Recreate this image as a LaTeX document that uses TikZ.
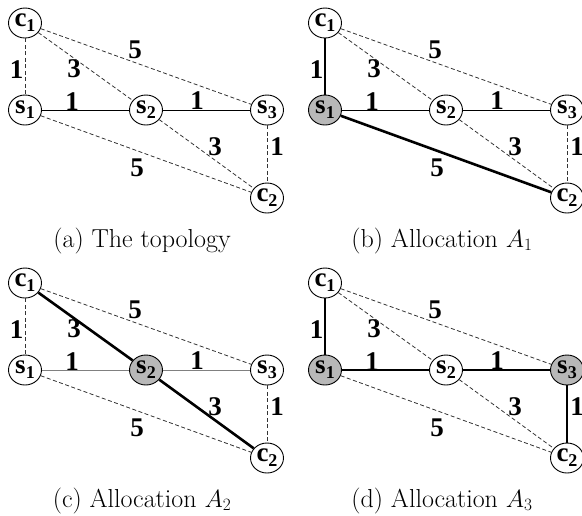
\documentclass[tikz,border=0pt]{standalone}
\usepackage{fontspec}
\newfontfamily\timesfont{Liberation Serif}
\usetikzlibrary{shapes.geometric}
\newcommand\vl[2]{#1\raisebox{-5pt}{\fontsize{18}{18}\selectfont #2}}
\newcommand\panelnodes[5]{%
  \node[vx,fill=#3] (#1s1) at (25,110) {\vl{s}{1}};
  \node[vx,fill=#4] (#1s2) at (146,110) {\vl{s}{2}};
  \node[vx,fill=#5] (#1s3) at (267,110) {\vl{s}{3}};
  \node[vx] (#1c1) at (25,23) {\vl{c}{1}};
  \node[vx] (#1c2) at (267,198) {\vl{c}{2}};
  \node[wt] (#1w1) at (16.5,70) {1};
  \node[wt] (#1w2) at (74,69) {3};
  \node[wt] (#1w3) at (135,50) {5};
  \node[wt] (#1w4) at (72,102) {1};
  \node[wt] (#1w5) at (197,101) {1};
  \node[wt] (#1w6) at (215,147) {3};
  \node[wt] (#1w7) at (277,147) {1};
  \node[wt] (#1w8) at (137,168) {5};
  \node[captxt] (#1cap) at (142,247) {#2};
}
\begin{document}
\begin{tikzpicture}[x=1pt,y=-1pt,
  vx/.style={ellipse,draw,fill=white,line width=0.9pt,minimum width=33pt,minimum height=30pt,inner sep=0pt,
    font=\timesfont\bfseries\fontsize{27}{27}\selectfont},
  wt/.style={inner sep=0pt,font=\timesfont\bfseries\fontsize{27}{27}\selectfont},
  dsh/.style={draw=black!80,line width=0.8pt,dash pattern=on 4pt off 2.5pt},
  thn/.style={draw=black,line width=0.9pt},
  thg/.style={draw=black!50,line width=1pt},
  thk/.style={draw=black,line width=2.6pt},
  captxt/.style={anchor=base,inner sep=0pt,font=\fontsize{26}{31}\selectfont}]
\useasboundingbox (0,0) rectangle (582,515);
% (a)
\begin{scope}
  \panelnodes{a}{(a) The topology}{white}{white}{white}
\end{scope}
% (b)
\begin{scope}[shift={(300,0)}]
  \panelnodes{b}{(b) Allocation $A_1$}{black!28}{white}{white}
\end{scope}
% (c)
\begin{scope}[shift={(0,260)}]
  \panelnodes{c}{(c) Allocation $A_2$}{white}{black!28}{white}
\end{scope}
% (d)
\begin{scope}[shift={(300,260)}]
  \panelnodes{d}{(d) Allocation $A_3$}{black!28}{white}{black!28}
\end{scope}
% edges (a)
\draw[dsh] (ac1) -- (as1);
\draw[dsh] (ac1) -- (as2);
\draw[dsh] (ac1) -- (as3);
\draw[thn] (as1) -- (as2);
\draw[thn] (as2) -- (as3);
\draw[dsh] (as2) -- (ac2);
\draw[dsh] (as3) -- (ac2);
\draw[dsh] (as1) -- (ac2);
% edges (b)
\draw[thk] (bc1) -- (bs1);
\draw[dsh] (bc1) -- (bs2);
\draw[dsh] (bc1) -- (bs3);
\draw[thn] (bs1) -- (bs2);
\draw[thn] (bs2) -- (bs3);
\draw[dsh] (bs2) -- (bc2);
\draw[dsh] (bs3) -- (bc2);
\draw[thk] (bs1) -- (bc2);
% edges (c)
\draw[dsh] (cc1) -- (cs1);
\draw[thk] (cc1) -- (cs2);
\draw[dsh] (cc1) -- (cs3);
\draw[thg] (cs1) -- (cs2);
\draw[thg] (cs2) -- (cs3);
\draw[thk] (cs2) -- (cc2);
\draw[dsh] (cs3) -- (cc2);
\draw[dsh] (cs1) -- (cc2);
% edges (d)
\draw[thk] (dc1) -- (ds1);
\draw[dsh] (dc1) -- (ds2);
\draw[dsh] (dc1) -- (ds3);
\draw[thk] (ds1) -- (ds2);
\draw[thk] (ds2) -- (ds3);
\draw[dsh] (ds2) -- (dc2);
\draw[thk] (ds3) -- (dc2);
\draw[dsh] (ds1) -- (dc2);
\end{tikzpicture}
\end{document}
